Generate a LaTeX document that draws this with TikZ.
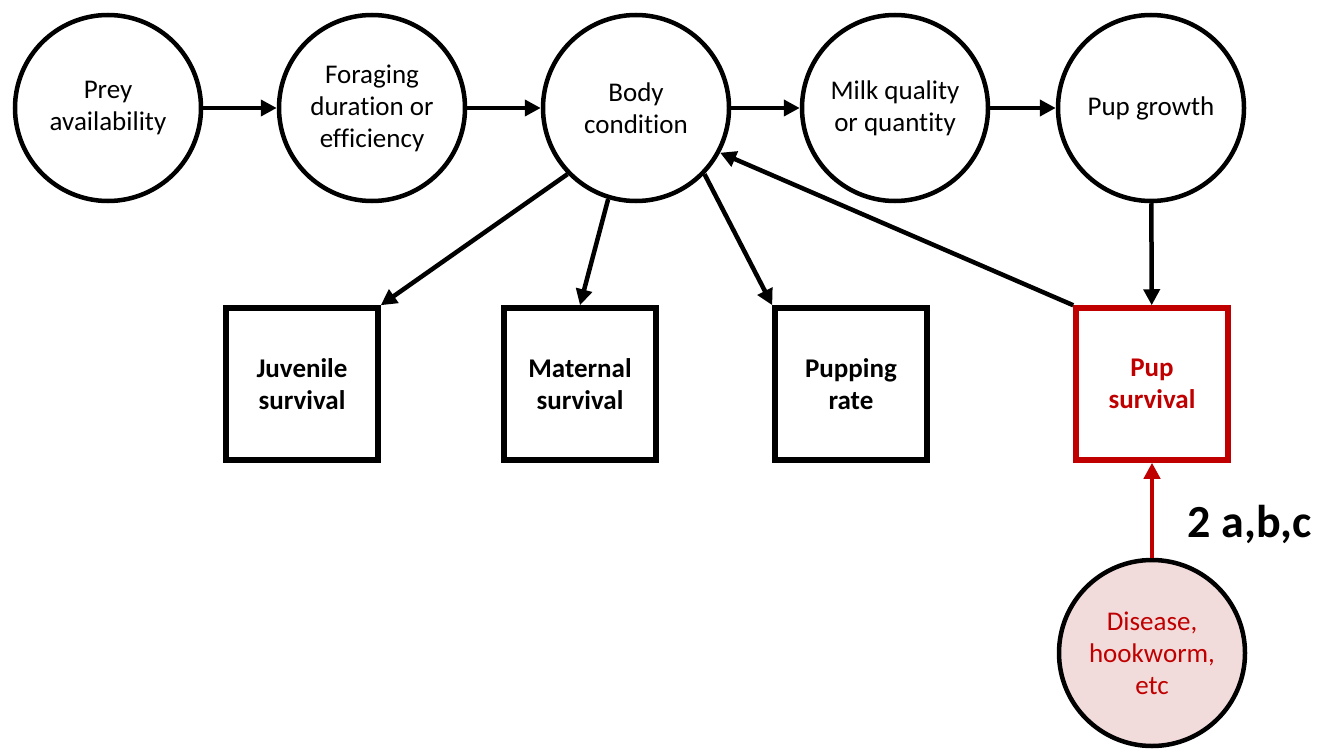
\documentclass[tikz,border=0pt]{standalone}
\usepackage{fontspec}
\setmainfont{Carlito}[Ligatures=NoCommon]
\usetikzlibrary{arrows.meta}

\definecolor{darkred}{HTML}{C00000}
\definecolor{palered}{HTML}{F2DCDB}

\begin{document}
\begin{tikzpicture}[x=1pt, y=-1pt,
  font=\fontsize{27}{32}\selectfont,
  state/.style={draw, circle, line width=4.5pt, minimum size=186pt, align=center, inner sep=0pt},
  rate/.style={draw, rectangle, line width=5.5pt, minimum size=152pt, align=center, font=\fontsize{27}{32}\selectfont\bfseries},
  link/.style={line width=4.5pt, -{Triangle[length=16pt, width=16pt]}}]
  \useasboundingbox (0,0) rectangle (1325,749);

  % top row
  \node[state] (prey) at (108,108) {Prey\\availability};
  \node[state] (forage) at (372,108) {Foraging\\duration or\\efficiency};
  \node[state] (body) at (636,108) {Body\\condition};
  \node[state] (milk) at (895,108) {Milk quality\\or quantity};
  \node[state] (growth) at (1151,108) {Pup growth};

  %-------------
  \node[rate] (juv) at (302,384) {Juvenile\\survival};
  \node[rate] (mat) at (580,384) {Maternal\\survival};
  \node[rate] (pupping) at (851,384) {Pupping\\rate};
  \node[rate, draw=darkred, text=darkred] (pupsurv) at (1152,384) {Pup\\survival};

  %-------------
  \node[state, fill=palered, text=darkred] (disease) at (1152,653) {Disease,\\hookworm,\\etc};
  \node[font=\fontsize{46}{52}\selectfont\bfseries] (ref) at (1250,524) {2 a,b,c};

  %-------------
  \draw[link] (prey) -- (forage);
  \draw[link] (forage) -- (body);
  \draw[link] (body) -- (milk);
  \draw[link] (milk) -- (growth);

  \draw[link] (body.224) -- (juv.north east);
  \draw[link] (body.253) -- (mat.north);
  \draw[link] (body.316) -- (pupping.north west);
  \draw[link] (pupsurv.north west) -- (body.332);
  \draw[link] (growth) -- (pupsurv);

  \draw[link, darkred] (disease) -- (pupsurv);

\end{tikzpicture}
\end{document}
